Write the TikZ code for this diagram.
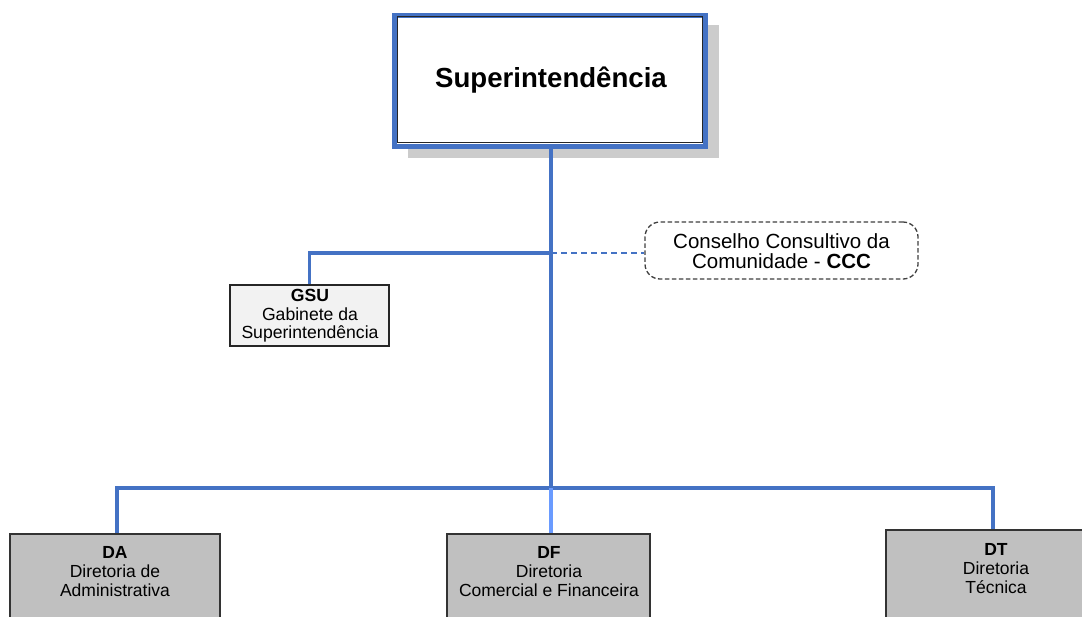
\documentclass[tikz,border=0pt]{standalone}
\usepackage{fontspec}
\setmainfont{Liberation Sans}
\definecolor{linkblue}{HTML}{4472C4}
\definecolor{lightlink}{HTML}{6A9BFF}
\definecolor{unitgray}{HTML}{C0C0C0}
\definecolor{paleunit}{HTML}{F2F2F2}
\definecolor{shadowgray}{HTML}{CCCCCC}
\tikzset{
  conn/.style={draw=linkblue, line width=3.2pt},
  connlight/.style={draw=lightlink, line width=3.2pt},
  dashconn/.style={draw=linkblue, line width=1.5pt, dash pattern=on 6pt off 4pt},
  unitbox/.style={draw=black!80, fill=unitgray, line width=2.2pt, inner sep=0pt},
  unittext/.style={align=center, inner sep=0pt, font=\fontsize{17.5}{19}\selectfont},
}
\begin{document}
\begin{tikzpicture}[x=1pt, y=-1pt]
\useasboundingbox (0,0) rectangle (1082,616);
\clip (0,0) rectangle (1082,616);
\fill[white] (0,0) rectangle (1082,616);

% top box: shadow, blue frame, inner line
\fill[shadowgray] (408,25) rectangle (719,158);
\node[draw=linkblue, fill=white, line width=5pt, minimum width=311pt, minimum height=131pt, inner sep=0pt] (sup) at (550,81) {};
\draw[black!85, line width=1pt] (397.5,16) rectangle (702.5,142.5);
\node[font=\bfseries\fontsize{27.6}{32}\selectfont] (supT) at (551,80) {Superintendência};

% junction points on the trunk
\coordinate (gj) at (551,253);
\coordinate (bus) at (551,488);

% staff office
\node[draw=black!85, fill=paleunit, line width=1.4pt, minimum width=159pt, minimum height=61pt, inner sep=0pt] (gsu) at (309.5,315.5) {};
\node[unittext, font=\fontsize{17.6}{18.5}\selectfont] (gsuT) at (310,316) {\textbf{GSU}\\Gabinete da\\Superintendência};

% advisory council
\node[draw=black!75, dash pattern=on 4.5pt off 2.5pt, line width=1.3pt, rounded corners=15pt, minimum width=273pt, minimum height=57pt, inner sep=0pt] (ccc) at (781.5,250.5) {};
\node[unittext, font=\fontsize{20.5}{20}\selectfont] (cccT) at (781.5,251) {Conselho Consultivo da\\Comunidade - \textbf{CCC}};

% directorates
\node[unitbox, minimum width=210pt, minimum height=100pt, anchor=north] (da) at (115,533) {};
\node[unitbox, minimum width=203pt, minimum height=100pt, anchor=north] (df) at (548.5,533) {};
\node[unitbox, minimum width=214pt, minimum height=100pt, anchor=north] (dt) at (993,529) {};
\node[unittext] (daT) at (115,572) {\textbf{DA}\\Diretoria de\\Administrativa};
\node[unittext] (dfT) at (549,572) {\textbf{DF}\\Diretoria\\Comercial e Financeira};
\node[unittext] (dtT) at (996,569) {\textbf{DT}\\Diretoria\\Técnica};

% connectors
\draw[dashconn] (gj) -- (gj -| ccc.west);
\draw[conn] (gj) -| (gsu.north);
\draw[conn] (da.north -| 117,0) |- (bus) -| (dt.north);
\draw[connlight] (bus) -- (df.north -| bus);
\draw[conn] (sup.south -| bus) -- (bus);
\end{tikzpicture}
\end{document}
